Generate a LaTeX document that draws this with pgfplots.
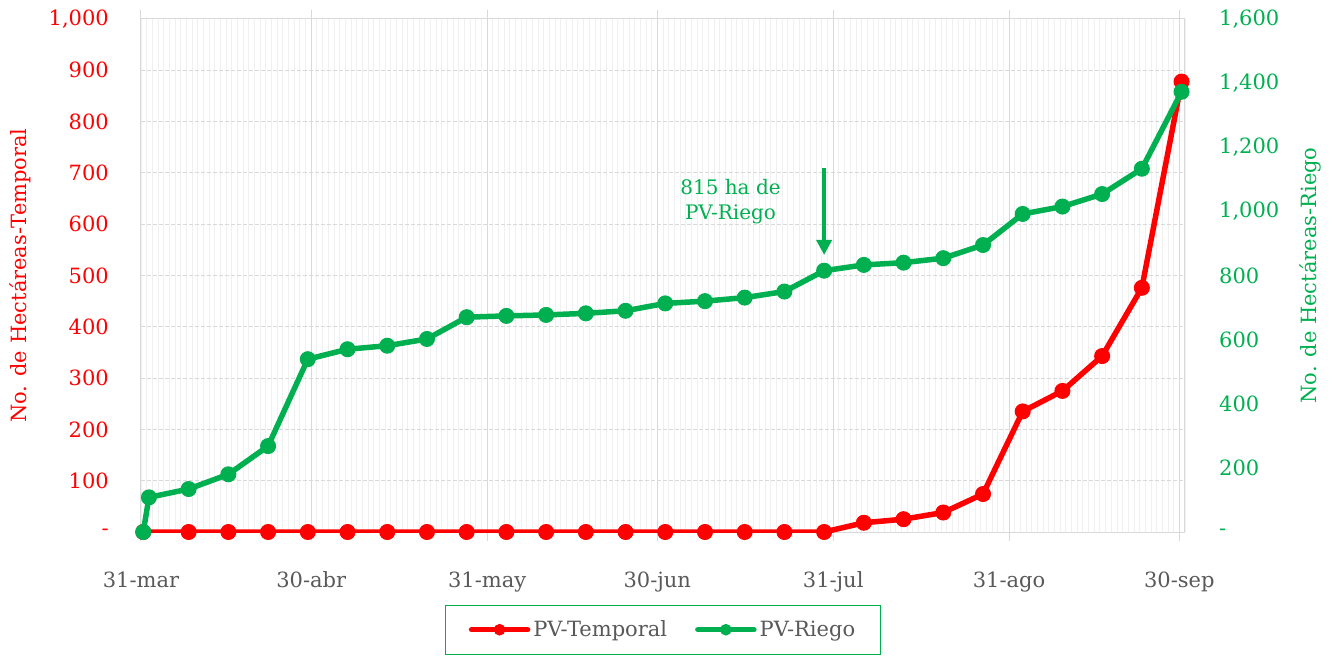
\documentclass[border=0pt]{standalone}
\usepackage{pgfplots}
\pgfplotsset{compat=1.18}
\usepackage{pgfplotstable}
\usepackage{fontspec}
\setmainfont{DejaVu Serif}
\usetikzlibrary{arrows.meta}

\definecolor{pvred}{HTML}{FF0000}
\definecolor{pvgreen}{HTML}{00B050}
\definecolor{txtgray}{HTML}{595959}
\definecolor{gridmaj}{HTML}{D9D9D9}
\definecolor{gridmin}{HTML}{F0F0F0}

\newcommand\tickfont{\fontsize{21}{25}\selectfont}

% dia: days since 31-mar
\pgfplotstableread{
dia ha
0.4 0
8.4 0
15.4 0
22.4 0
29.4 0
36.4 0
43.4 0
50.4 0
57.4 0
64.4 0
71.4 0
78.4 0
85.4 0
92.4 0
99.4 0
106.4 0
113.4 0
120.4 0
127.4 18
134.4 25
141.4 38
148.4 74
155.4 235
162.4 275
169.4 343
176.4 476
183.4 878
}\temporal

\pgfplotstableread{
dia ha
0.4 0
1.4 108
8.4 134
15.4 180
22.4 268
29.4 539
36.4 570
43.4 581
50.4 602
57.4 670
64.4 674
71.4 677
78.4 682
85.4 690
92.4 713
99.4 720
106.4 731
113.4 750
120.4 815
127.4 833
134.4 840
141.4 854
148.4 895
155.4 992
162.4 1015
169.4 1054
176.4 1133
183.4 1373
}\riego

\pgfplotsset{
  pvlegend/.style={legend image code/.code={
    \draw[line width=5.5pt, line cap=round, #1] (0pt,0pt) -- (56pt,0pt);
    \fill[#1] (28pt,0pt) circle (5.3pt);}},
  serie/.style={line width=5.5pt, mark=*, mark size=7.5pt, mark options={line width=1pt}},
  base/.style={
    width=1044pt, height=513pt, scale only axis,
    at={(0pt,0pt)}, anchor=south west,
    xmin=0, xmax=184,
  },
}

\begin{document}
\begin{tikzpicture}
\begin{axis}[
  base,
  ymin=0, ymax=1000,
  xtick={0,30,61,91,122,153,183},
  xticklabels={31-mar,30-abr,31-may,30-jun,31-jul,31-ago,30-sep},
  minor xtick={0,1,...,184},
  ytick={0,100,...,1000},
  yticklabels={-\hspace{3pt},100,200,300,400,500,600,700,800,900,{1,000}},
  xmajorgrids, xminorgrids, ymajorgrids,
  major x grid style={gridmaj, line width=1pt},
  minor x grid style={gridmin, line width=0.8pt},
  major y grid style={gridmaj, line width=1pt, dash pattern=on 4pt off 2pt},
  axis line style={gridmaj, line width=1pt},
  tick align=outside,
  major tick length=9pt, minor tick length=0pt,
  xtick style={gridmaj, line width=1pt},
  ytick style={draw=none},
  xticklabel style={font=\tickfont, text=txtgray, anchor=base, inner sep=0pt, yshift=-46pt},
  yticklabel style={font=\tickfont, text=pvred, anchor=east, inner sep=0pt, xshift=-23pt},
  ylabel={No. de Hectáreas-Temporal},
  ylabel style={font=\tickfont, text=pvred, at={(axis description cs:-0.116,0.5)}, anchor=center},
]
\addplot[pvred, serie] table[x=dia, y=ha] {\temporal};
\end{axis}

\begin{axis}[
  base,
  ymin=0, ymax=1600,
  axis x line=none,
  axis y line*=right,
  axis line style={draw=none},
  ytick={0,200,...,1600},
  yticklabels={-,200,400,600,800,{1,000},{1,200},{1,400},{1,600}},
  ytick style={draw=none},
  yticklabel style={font=\tickfont, text=pvgreen, anchor=west, inner sep=0pt, xshift=34pt},
  ylabel={No. de Hectáreas-Riego},
  ylabel style={font=\tickfont, text=pvgreen, at={(axis description cs:1.1197,0.5)}, anchor=center},
  legend columns=2,
  legend style={at={(axis description cs:0.5,-0.1905)}, anchor=center,
    draw=pvgreen, line width=1pt, font=\tickfont, text=txtgray,
    inner xsep=23pt, inner ysep=14pt,
    /tikz/every odd column/.append style={column sep=1pt},
    /tikz/every even column/.append style={column sep=26pt}},
  legend cell align=left,
]
\addlegendimage{pvlegend=pvred}
\addlegendentry{PV-Temporal}
\addlegendimage{pvlegend=pvgreen}
\addlegendentry{PV-Riego}
\addplot[pvgreen, serie] table[x=dia, y=ha] {\riego};
\draw[pvgreen, line width=3.5pt, -{Triangle[length=15pt, width=15pt]}]
  (axis cs:120.4,1135) -- (axis cs:120.4,864);
\node[text=pvgreen, align=center, font=\fontsize{20}{25}\selectfont]
  at (axis cs:103.9,1029) {815 ha de\\PV-Riego};
\end{axis}
\pgfresetboundingbox
\path (-141pt,-124pt) rectangle (1195pt,532pt);
\end{tikzpicture}
\end{document}
